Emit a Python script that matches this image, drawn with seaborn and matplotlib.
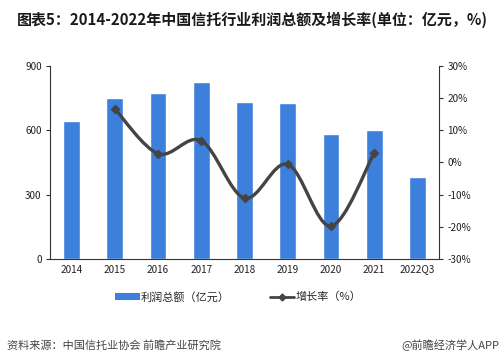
import matplotlib
matplotlib.use("Agg")
import matplotlib.pyplot as plt
import seaborn as sns
import pandas as pd
from matplotlib.path import Path
from matplotlib.patches import PathPatch, Patch
from matplotlib.lines import Line2D
from matplotlib.ticker import FuncFormatter

# ---- data ----
years = ["2014", "2015", "2016", "2017", "2018", "2019", "2020", "2021", "2022Q3"]
profit = [642.3, 749.0, 772.5, 822.0, 733.0, 728.0, 583.2, 600.2, 384.0]
growth_years = ["2015", "2016", "2017", "2018", "2019", "2020", "2021"]
growth = [16.6, 2.7, 6.7, -11.1, -0.6, -19.8, 2.9]

title = "图表5：2014-2022年中国信托行业利润总额及增长率(单位：亿元，%)"
source = "资料来源：中国信托业协会 前瞻产业研究院"
brand = "@前瞻经济学人APP"

bar_color = "#3D80DC"
line_color = "#444444"

sns.set_style("white")
plt.rcParams["font.family"] = ["Noto Sans CJK SC", "DejaVu Sans"]
plt.rcParams["axes.unicode_minus"] = False

df = pd.DataFrame({"year": years, "profit": profit})
gdf = pd.DataFrame({"year": growth_years, "growth": growth})
gdf["pos"] = [years.index(y) for y in growth_years]

fig = plt.figure(figsize=(5, 3.64), dpi=100)
ax = fig.add_axes([0.1, 0.2885, 0.778, 0.531])

sns.barplot(data=df, x="year", y="profit", color=bar_color, width=0.39,
            saturation=1, ax=ax)
ax.set_ylim(0, 900)
ax.set_yticks([0, 300, 600, 900])
ax.set_xlim(-0.5, len(years) - 0.5)
ax.set_xlabel("")
ax.set_ylabel("")

# x ticks sit between categories, labels at centres
ax.set_xticks([i + 0.5 for i in range(-1, len(years))], minor=False)
ax.set_xticklabels([])
ax.set_xticks(range(len(years)), minor=True)
ax.set_xticklabels(years, minor=True)
ax.tick_params(axis="x", which="major", direction="out", length=3, width=0.8, color="#333333")
ax.tick_params(axis="x", which="minor", length=0, labelsize=7.2, pad=4, labelcolor="#222222")
ax.tick_params(axis="y", direction="out", length=3, width=0.8, labelsize=7.2, pad=3,
               color="#333333", labelcolor="#222222")
for s in ["left", "bottom"]:
    ax.spines[s].set_color("#333333")
    ax.spines[s].set_linewidth(0.8)
ax.spines["top"].set_visible(False)
ax.spines["right"].set_visible(False)

ax2 = ax.twinx()
ax2.set_ylim(-30, 30)
ax2.set_yticks(range(-30, 31, 10))
ax2.yaxis.set_major_formatter(FuncFormatter(lambda v, p: f"{int(v)}%"))
ax2.tick_params(axis="y", direction="out", length=3, width=0.8, labelsize=7.2, pad=3,
                color="#333333", labelcolor="#222222")
ax2.spines["right"].set_color("#333333")
ax2.spines["right"].set_linewidth(0.8)
for s in ["top", "left", "bottom"]:
    ax2.spines[s].set_visible(False)

# smoothed line (Catmull-Rom as cubic Bezier) through the growth points
xs = list(gdf["pos"])
ys = list(gdf["growth"])
verts = [(xs[0], ys[0])]
codes = [Path.MOVETO]
n = len(xs)
for i in range(n - 1):
    p0 = (xs[i - 1], ys[i - 1]) if i > 0 else (xs[i], ys[i])
    p1 = (xs[i], ys[i])
    p2 = (xs[i + 1], ys[i + 1])
    p3 = (xs[i + 2], ys[i + 2]) if i + 2 < n else p2
    c1 = (p1[0] + (p2[0] - p0[0]) / 6, p1[1] + (p2[1] - p0[1]) / 6)
    c2 = (p2[0] - (p3[0] - p1[0]) / 6, p2[1] - (p3[1] - p1[1]) / 6)
    verts += [c1, c2, p2]
    codes += [Path.CURVE4] * 3
ax2.add_patch(PathPatch(Path(verts, codes), facecolor="none", edgecolor=line_color,
                        lw=2.4, capstyle="round", zorder=3))
sns.scatterplot(data=gdf, x="pos", y="growth", marker="D", s=22, color=line_color,
                edgecolor=line_color, ax=ax2, zorder=4, legend=False)
ax2.set_xlim(-0.5, len(years) - 0.5)
ax2.set_xlabel("")
ax2.set_ylabel("")

handles = [Patch(facecolor=bar_color, edgecolor="none", label="利润总额（亿元）"),
           Line2D([0], [0], color=line_color, lw=2, marker="D", markersize=3.5,
                  label="增长率（%）")]
fig.legend(handles=handles, loc="center", bbox_to_anchor=(0.476, 0.184), ncol=2,
           frameon=False, fontsize=8, handlelength=2.2, handleheight=0.6,
           handletextpad=0.1, columnspacing=3.6)

fig.text(0.034, 0.945, title, fontsize=10.8, fontweight="bold", color="#1a1a1a",
         ha="left", va="center")
fig.text(0.014, 0.05, source, fontsize=8, color="#444444", ha="left", va="center")
fig.text(0.998, 0.05, brand, fontsize=8, color="#444444", ha="right", va="center")

fig.savefig("out.png", dpi=100)
